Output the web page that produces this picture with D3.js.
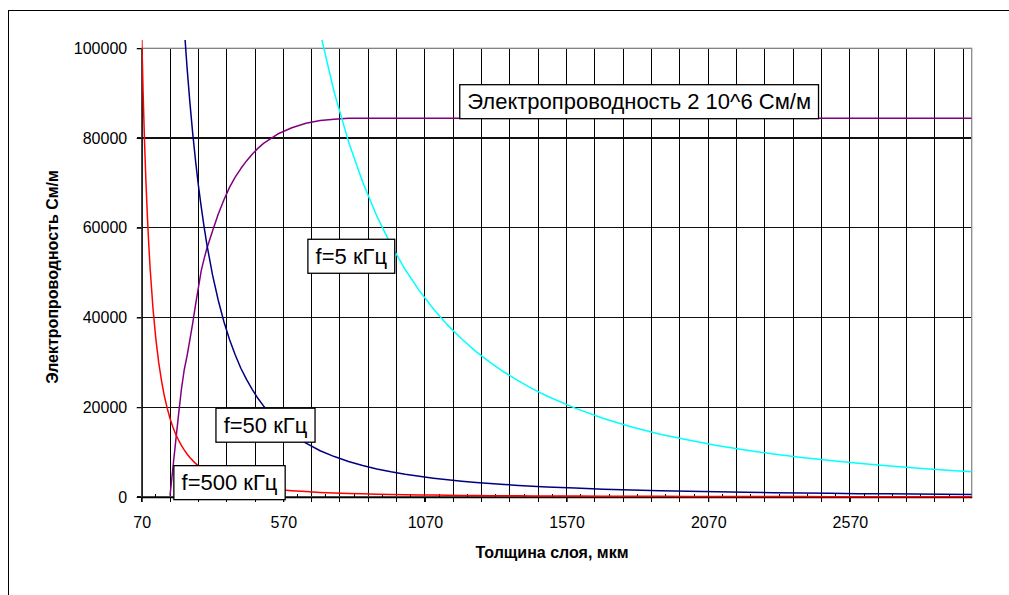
<!DOCTYPE html>
<html><head><meta charset="utf-8">
<script src="https://cdn.jsdelivr.net/npm/d3@7"></script>
<style>
html,body{margin:0;padding:0;background:#fff;}
svg{display:block;font-family:Arial,"Liberation Sans",sans-serif;}
</style></head><body>
<svg id="chart" width="1009" height="595"></svg>
<script>
// Layer thickness, µm
const thickness = [70,75,80,85,90,95,
  100,110,120,130,140,150,160,170,180,190,200,210,220,230,240,250,260,270,280,290,300,
  320,340,360,380,400,420,440,460,480,500,
  550,600,650,700,750,800,850,900,950,1000,1050,1100,1150,1200,1250,1300,1350,1400,1450,1500,
  1600,1700,1800,1900,2000,2100,2200,2300,2400,2500,2600,2700,2800,2900,3000];

// Required conductivity, S/m, for each frequency
const sigma500kHz = [103500,90100,79200,70200,62600,56200,
  50700,41900,35200,30000,25900,22500,19800,17500,15600,14000,12700,11500,10500,9580,8800,8110,7500,6950,6470,6030,5630,
  4950,4390,3910,3510,3170,2870,2620,2400,2200,2030,
  1680,1410,1200,1030,900,790,700,630,560,510,460,420,380,350,320,300,280,260,240,230,
  200,180,160,140,130,115,105,96,88,81,75,70,65,60,56];

const sigma50kHz = [null,null,null,null,null,null,
  null,null,null,null,null,null,null,null,null,null,null,null,104800,95800,88000,81100,75000,69500,64700,60300,56300,
  49500,43900,39100,35100,31700,28700,26200,24000,22000,20300,
  16800,14100,12000,10300,9010,7920,7020,6260,5620,5070,4600,4190,3830,3520,3240,3000,2780,2590,2410,2250,
  1980,1750,1560,1400,1270,1150,1050,960,880,810,750,700,650,600,560];

const sigma5kHz = [null,null,null,null,null,null,
  null,null,null,null,null,null,null,null,null,null,null,null,null,null,null,null,null,null,null,null,null,
  null,null,null,null,null,null,null,null,null,null,
  null,null,null,103500,90100,79200,70200,62600,56200,50700,46000,41900,38300,35200,32400,30000,27800,25900,24100,22500,
  19800,17500,15600,14000,12700,11500,10500,9580,8800,8110,7500,6950,6470,6030,5630];

// Effective conductivity for a 2·10^6 S/m layer
const sigmaLayer = [null,null,null,null,null,null,
  null,null,null,null,null,null,null,300,6400,12400,18300,23900,28300,31400,35000,38700,42800,46600,50400,53000,55400,
  59300,63000,66200,69000,71300,73200,74900,76400,77700,78800,
  80900,82300,83300,83900,84200,84400,84400,84400,84400,84400,84400,84400,84400,84400,84400,84400,84400,84400,84400,84400,
  84400,84400,84400,84400,84400,84400,84400,84400,84400,84400,84400,84400,84400,84400,84400];

const xTickLabels = [70, 570, 1070, 1570, 2070, 2570];
const yTickValues = [0, 20000, 40000, 60000, 80000, 100000];
const noteTexts = ["Электропроводность 2 10^6 См/м", "f=5 кГц", "f=50 кГц", "f=500 кГц"];

const svg = d3.select("#chart");
const plot = {left: 141.7, right: 971.7, top: 48.3, bottom: 497};

const x = d3.scaleLinear().domain([70, 3000]).range([plot.left, plot.right]);
const y = d3.scaleLinear().domain([0, 100000]).range([plot.bottom, plot.top]);

// outer chart frame
svg.append("rect").attr("x", 8.5).attr("y", 10.5).attr("width", 1100).attr("height", 700)
  .attr("fill", "none").attr("stroke", "#000").attr("stroke-width", 1);

// gridlines
const grid = svg.append("g").attr("shape-rendering", "crispEdges");
grid.selectAll("line.v").data(d3.range(70, 3000, 100)).join("line")
  .attr("x1", d => x(d)).attr("x2", d => x(d))
  .attr("y1", plot.top).attr("y2", plot.bottom + 5)
  .attr("stroke", "#000").attr("stroke-width", 1);
grid.selectAll("line.h").data(yTickValues).join("line")
  .attr("x1", plot.left - 5).attr("x2", plot.right)
  .attr("y1", d => y(d)).attr("y2", d => y(d))
  .attr("stroke", "#111").attr("stroke-width", 1.3);

// plot area border
svg.append("rect").attr("x", plot.left).attr("y", plot.top)
  .attr("width", plot.right - plot.left).attr("height", plot.bottom - plot.top)
  .attr("fill", "none").attr("stroke", "#8a8a8a").attr("stroke-width", 1.3);

// x axis
const xAxis = svg.append("g").attr("transform", `translate(0,${plot.bottom})`)
  .call(d3.axisBottom(x).tickValues(xTickLabels).tickSize(5).tickSizeOuter(0).tickFormat(d3.format("d")));
xAxis.select(".domain").attr("stroke", "#000").attr("stroke-width", 1.3);
xAxis.selectAll(".tick line").attr("stroke", "#000");
xAxis.selectAll(".tick text").attr("font-size", 16).attr("font-family", "Arial, 'Liberation Sans', sans-serif")
  .attr("fill", "#000").attr("y", 0).attr("dy", 31);
// minor tick marks inside
svg.append("g").attr("shape-rendering", "crispEdges").selectAll("line").data(d3.range(120, 3000, 100)).join("line")
  .attr("x1", d => x(d)).attr("x2", d => x(d)).attr("y1", plot.bottom - 3).attr("y2", plot.bottom)
  .attr("stroke", "#000");

// y axis
const yAxis = svg.append("g").attr("transform", `translate(${plot.left},0)`)
  .call(d3.axisLeft(y).tickValues(yTickValues).tickSize(5).tickSizeOuter(0).tickFormat(d3.format("d")));
yAxis.select(".domain").attr("stroke", "#000").attr("stroke-width", 1.3);
yAxis.selectAll(".tick line").attr("stroke", "#000");
yAxis.selectAll(".tick text").attr("font-size", 16).attr("font-family", "Arial, 'Liberation Sans', sans-serif")
  .attr("fill", "#000").attr("x", -14.5);

// axis titles
svg.append("text").attr("x", 552).attr("y", 558).attr("text-anchor", "middle")
  .attr("font-size", 16).attr("font-weight", "bold").text("Толщина слоя, мкм");
svg.append("text").attr("transform", "translate(58,277) rotate(-90)").attr("text-anchor", "middle")
  .attr("font-size", 16).attr("font-weight", "bold").text("Электропроводность См/м");

// series
svg.append("clipPath").attr("id", "clip").append("rect")
  .attr("x", plot.left).attr("y", 40).attr("width", plot.right - plot.left).attr("height", plot.bottom - 40 + 2);

const series = [
  {values: sigmaLayer, color: "#800080"},
  {values: sigma5kHz, color: "#00ffff"},
  {values: sigma50kHz, color: "#000080"},
  {values: sigma500kHz, color: "#ff0000"}
];
const line = d3.line().defined(d => d.v != null).x(d => x(d.t)).y(d => y(d.v));
const lines = svg.append("g").attr("clip-path", "url(#clip)");
series.forEach(s => {
  const pts = thickness.map((t, i) => ({t, v: s.values[i]}));
  lines.append("path").attr("d", line(pts)).attr("fill", "none")
    .attr("stroke", s.color).attr("stroke-width", 1.5).attr("stroke-linejoin", "round");
});

// annotation boxes, anchored at (thickness, conductivity)
const noteAnchors = [[1826, 88100], [810, 53650], [507, 16000], [380, 3200]];
noteTexts.forEach((txt, i) => {
  const g = svg.append("g");
  const cx = x(noteAnchors[i][0]), cy = y(noteAnchors[i][1]);
  const rect = g.append("rect");
  const t = g.append("text").attr("x", cx).attr("y", cy).attr("dy", "0.35em")
    .attr("text-anchor", "middle").attr("font-size", 22).attr("fill", "#000").text(txt);
  const bb = t.node().getBBox();
  const w = bb.width + 15, h = 34;
  rect.attr("x", cx - w / 2).attr("y", cy - h / 2).attr("width", w).attr("height", h)
    .attr("fill", "#fff").attr("stroke", "#000").attr("stroke-width", 1.3);
});
</script>
</body></html>
